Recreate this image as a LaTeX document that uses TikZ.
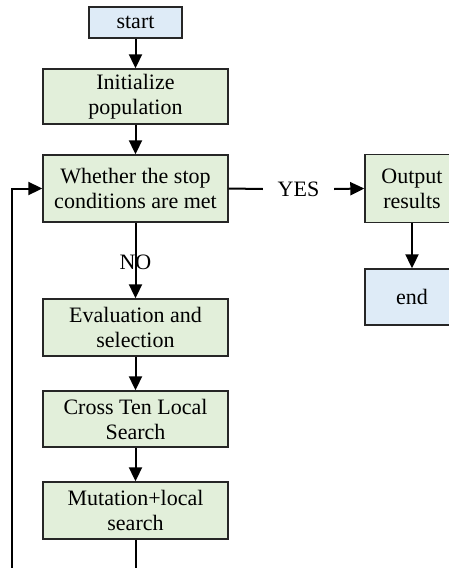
\documentclass[tikz,border=0pt]{standalone}
\usepackage{fontspec}
\setmainfont{Liberation Serif}
\usepackage{xcolor}
\usetikzlibrary{arrows.meta}
\definecolor{boxgreen}{RGB}{226,239,218}
\definecolor{boxblue}{RGB}{222,235,247}
\definecolor{edge}{RGB}{38,38,38}

\begin{document}
\begin{tikzpicture}[x=1pt,y=1pt,
  blk/.style={draw=edge, line width=1.4pt, fill=boxgreen, align=center, inner sep=1pt,
    font=\fontsize{22}{25}\selectfont},
  term/.style={blk, fill=boxblue},
  arr/.style={-{Triangle[length=14pt,width=13pt]}, line width=2pt},
  lbl/.style={font=\fontsize{22}{25}\selectfont, inner sep=0pt}]
\useasboundingbox (0,0) rectangle (448,-568);
%
\node[term, minimum width=93pt, minimum height=31pt] (start) at (135.5,-22.5) {start};
\node[blk, minimum width=185pt, minimum height=55pt] (init) at (135.5,-96.5) {Initialize\\population};
\node[blk, minimum width=185pt, minimum height=67pt] (cond) at (135.5,-188.5) {Whether the stop\\conditions are met};
\node[blk, minimum width=185pt, minimum height=57pt] (eval) at (135.5,-327.5) {Evaluation and\\selection};
\node[blk, minimum width=185pt, minimum height=56pt] (cross) at (135.5,-419) {Cross Ten Local\\Search};
\node[blk, minimum width=185pt, minimum height=57pt] (mut) at (135.5,-510.5) {Mutation+local\\search};
%
\node[blk, minimum width=94pt, minimum height=68pt] (out) at (412,-188.5) {Output\\results};
\node[term, minimum width=94pt, minimum height=56pt] (endn) at (412,-297) {end};
\node[lbl, minimum width=71pt] (yes) at (298.5,-189) {YES};
%
\draw[arr] (start) -- (init);
\draw[arr] (init) -- (cond);
\draw[arr] (cond) -- node[lbl, pos=0.53] {NO} (eval);
\draw[arr] (eval) -- (cross);
\draw[arr] (cross) -- (mut);
\draw[arr] (out) -- (endn);
%
\draw[line width=2pt] (cond.east) -- (yes.west);
\draw[arr] (yes.east) -- (out.west);
%
\coordinate (back) at (12,-600);
\draw[arr] (mut.south) |- (back) |- (cond.west);
\end{tikzpicture}
\end{document}
